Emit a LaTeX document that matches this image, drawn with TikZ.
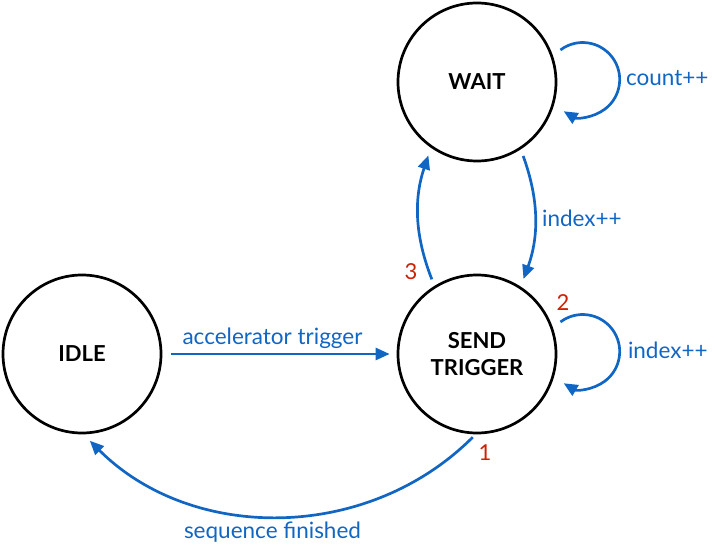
\documentclass[tikz,border=0pt]{standalone}
\usepackage{fontspec}
\setmainfont{Lato}
\usetikzlibrary{arrows.meta}
\definecolor{fsmblue}{RGB}{17,102,196}
\definecolor{fsmred}{RGB}{204,34,0}
\begin{document}
\begin{tikzpicture}[x=1pt, y=1pt, line width=2.7pt,
  state/.style = {draw, circle, minimum size=158pt, inner sep=0pt, align=center, font=\bfseries\fontsize{22}{27}\selectfont},
  trans/.style = {draw=fsmblue, -{Triangle[length=14pt,width=12pt]}},
  lbl/.style = {text=fsmblue, font=\fontsize{22.5}{27}\selectfont},
  num/.style = {text=fsmred, font=\fontsize{22}{26}\selectfont}]
\useasboundingbox (0,0) rectangle (715,550);
\node[state] (idle) at (82,196) {IDLE};
\node[state] (send) at (477,196) {SEND\\TRIGGER};
\node[state] (wait) at (477,468) {WAIT};
\draw[trans, shorten <=9pt, shorten >=7pt] (idle.east) -- node[lbl, above=1pt, xshift=-7pt]{accelerator trigger} (send.west);
\draw[trans] ([shift={(21:9pt)}]wait.21) arc[start angle=127, end angle=-121, radius=37];
\node[lbl, anchor=west] (cnt) at ([shift={(64pt,4pt)}]wait.east) {count++};
\draw[trans] ([shift={(21:9pt)}]send.21) arc[start angle=127, end angle=-121, radius=37];
\node[lbl, anchor=west] (idx) at ([shift={(66pt,4pt)}]send.east) {index++};
\draw[trans, shorten <=7pt, shorten >=8pt] (send.122) to[bend left=20] (wait.235);
\draw[trans, shorten <=7pt, shorten >=8pt] (wait.-57) to[bend left=20] node[lbl, right=3pt]{index++} (send.57);
\draw[trans, shorten <=4pt, shorten >=9pt] (send.-91) to[out=-135, in=-45, looseness=1.0] node[lbl, below=2pt, xshift=-7pt]{sequence finished} (idle.-89);
\node[num] (one) at (485,97) {1};
\node[num] (two) at (563,247) {2};
\node[num] (three) at (411,278) {3};
\end{tikzpicture}
\end{document}
